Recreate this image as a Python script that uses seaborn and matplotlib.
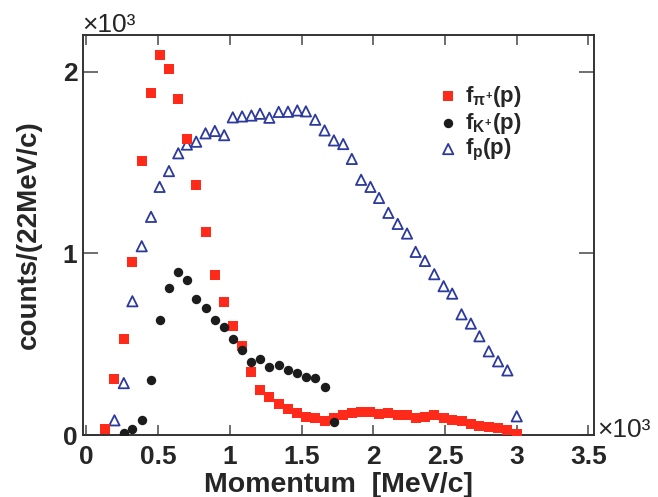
import numpy as np
import pandas as pd
import seaborn as sns
import matplotlib
matplotlib.use("Agg")
import matplotlib.pyplot as plt
from matplotlib.ticker import MultipleLocator, FuncFormatter

# momentum bin centres [MeV/c]
momentum = [130, 195, 260, 320, 385, 450, 510, 575, 640, 700,
            765, 830, 895, 960, 1020, 1085, 1150, 1210, 1275, 1340,
            1405, 1470, 1530, 1595, 1660, 1725, 1790, 1850, 1915, 1980,
            2040, 2105, 2170, 2235, 2295, 2360, 2425, 2490, 2550, 2615,
            2680, 2740, 2805, 2870, 2935, 3000]

# counts / (22 MeV/c)
pion = [35, 310, 527, 954, 1511, 1886, 2095, 2015, 1849, 1629,
        1377, 1119, 880, 733, 599, 491, 347, 248, 207, 173,
        141, 121, 99, 92, 75, 92, 112, 121, 126, 125,
        117, 121, 108, 112, 93, 99, 108, 92, 85, 75,
        62, 50, 44, 36, 27, 7]

kaon_p = momentum[2:26]
kaon = [13, 33, 84, 301, 632, 812, 899, 853, 748, 697,
        636, 595, 531, 467, 402, 421, 373, 388, 356, 340,
        317, 314, 266, 71]

proton = [0, 81, 286, 737, 1040, 1202, 1367, 1454, 1552, 1600,
          1616, 1662, 1675, 1652, 1750, 1755, 1760, 1770, 1748, 1780,
          1781, 1788, 1783, 1737, 1678, 1623, 1603, 1521, 1406, 1367,
          1306, 1224, 1163, 1110, 1009, 959, 886, 820, 779, 665,
          614, 544, 461, 406, 356, 103]

sns.set_style("ticks")
plt.rcParams["font.family"] = ["Liberation Sans", "DejaVu Sans"]
plt.rcParams["font.weight"] = "bold"
plt.rcParams["mathtext.fontset"] = "custom"
plt.rcParams["mathtext.rm"] = "Liberation Sans:bold"
plt.rcParams["mathtext.it"] = "Liberation Sans:bold"
plt.rcParams["mathtext.bf"] = "Liberation Sans:bold"

fig = plt.figure(figsize=(6.58, 4.97), dpi=100)
ax = fig.add_axes([0.126, 0.1247, 0.777, 0.805])

sns.scatterplot(x=momentum, y=pion, marker="s", s=44, color="#ff2a1a",
                linewidth=0, label=r"$f_{\pi^{+}}(p)$", ax=ax, zorder=3)
sns.scatterplot(x=kaon_p, y=kaon, marker="o", s=46, color="#1c1c1c",
                linewidth=0, label=r"$f_{K^{+}}(p)$", ax=ax, zorder=4)
sns.scatterplot(x=momentum, y=proton, marker="^", s=55, facecolor="none",
                edgecolor="#2b3a9c", linewidth=1.3, label=r"$f_{p}(p)$",
                ax=ax, zorder=2)

ax.set_xlim(-25, 3540)
ax.set_ylim(0, 2204)
ax.xaxis.set_major_locator(MultipleLocator(500))
ax.yaxis.set_major_locator(MultipleLocator(1000))
fmt = FuncFormatter(lambda v, p: "%g" % (v / 1000))
ax.xaxis.set_major_formatter(fmt)
ax.yaxis.set_major_formatter(fmt)

for sp in ax.spines.values():
    sp.set_visible(True)
    sp.set_linewidth(1.4)
    sp.set_color("#333333")

ax.tick_params(axis="both", which="major", direction="in", top=True, right=True,
               labelsize=19, color="#555555", width=1.2)
ax.tick_params(axis="x", length=7, pad=7)
ax.tick_params(axis="y", length=11, pad=4)

ax.set_xlabel("Momentum  [MeV/c]", fontsize=20.5, fontweight="bold", labelpad=2)
ax.set_ylabel("counts/(22MeV/c)", fontsize=20, fontweight="bold", labelpad=15)

ax.text(-0.002, 0.996, "×10³", transform=ax.transAxes, fontsize=19,
        fontweight="normal", ha="left", va="bottom")
ax.text(1.006, 0.012, "×10³", transform=ax.transAxes, fontsize=19,
        fontweight="normal", ha="left", va="center")

leg = ax.legend(loc="upper left", bbox_to_anchor=(0.671, 0.9), frameon=False,
                fontsize=16, handletextpad=0.15, labelspacing=0.08,
                borderaxespad=0, handlelength=1.2)

fig.savefig("out.png", dpi=100)
